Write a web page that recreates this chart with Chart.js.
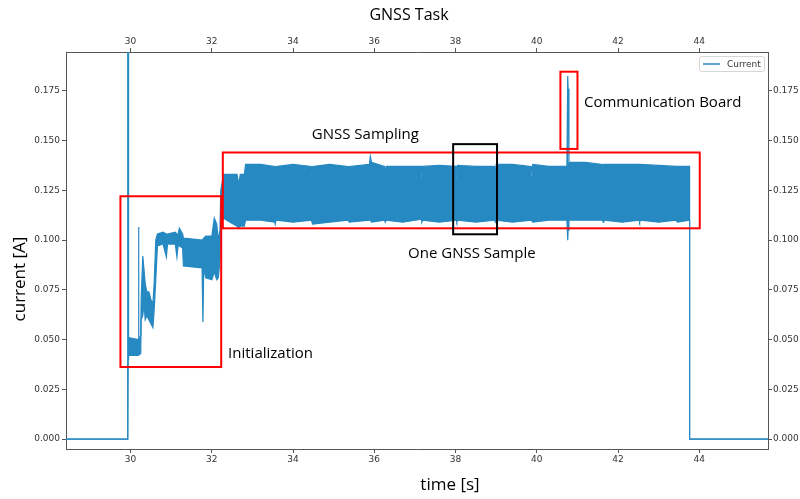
<!DOCTYPE html>
<html>
<head>
<meta charset="utf-8">
<script src="https://cdn.jsdelivr.net/npm/chart.js@4.4.0/dist/chart.umd.min.js"></script>
<style>
  html, body { margin: 0; padding: 0; background: #fff; }
  #wrap { width: 800px; height: 499px; }
</style>
</head>
<body>
<div id="wrap"><canvas id="chart"></canvas></div>
<script>
// time axis of the trace [s]
const timeS = [
  28.41, 29.93, 29.93, 29.94, 29.95, 30.19, 30.195, 30.205, 30.25, 30.26,
  30.30, 30.33, 30.36, 30.40, 30.45, 30.50, 30.55, 30.58, 30.62, 30.66,
  30.80, 30.88, 30.91, 31.10, 31.14, 31.17, 31.20, 31.28, 31.30, 31.76,
  31.78, 31.80, 31.85, 32.00, 32.06, 32.12, 32.16, 32.20, 32.22, 32.29,
  32.45, 32.62, 32.66, 32.70, 32.80, 32.83, 33.20, 33.55, 33.56, 33.58,
  34.00, 34.45, 34.46, 34.48, 34.90, 35.35, 35.36, 35.38, 35.88, 35.90,
  35.93, 36.25, 36.27, 36.29, 36.70, 37.16, 37.17, 37.19, 37.60, 38.02,
  38.03, 38.05, 38.50, 38.96, 38.98, 39.00, 39.40, 39.86, 39.88, 39.90,
  40.30, 40.74, 40.76, 40.77, 40.79, 41.20, 41.62, 41.63, 41.65, 42.10,
  42.52, 42.53, 42.55, 43.00, 43.43, 43.44, 43.46, 43.76, 43.76, 45.69
];
// upper edge of the current trace [A]
const currentHigh = [
  0, 0, 0.200, 0.200, 0.051, 0.050, 0.1066, 0.050, 0.052, 0.070,
  0.092, 0.085, 0.078, 0.074, 0.074, 0.070, 0.068, 0.078, 0.100, 0.103,
  0.104, 0.103, 0.103, 0.104, 0.103, 0.103, 0.106, 0.103, 0.101, 0.100,
  0.100, 0.101, 0.102, 0.102, 0.111, 0.108, 0.100, 0.105, 0.125, 0.133,
  0.133, 0.133, 0.128, 0.133, 0.133, 0.138, 0.138, 0.137, 0.132, 0.137,
  0.138, 0.137, 0.132, 0.137, 0.138, 0.137, 0.132, 0.137, 0.138, 0.142,
  0.139, 0.137, 0.1326, 0.137, 0.137, 0.137, 0.131, 0.137, 0.1375, 0.137,
  0.131, 0.1375, 0.137, 0.137, 0.1326, 0.138, 0.138, 0.137, 0.1326, 0.138,
  0.137, 0.137, 0.1824, 0.176, 0.139, 0.139, 0.138, 0.133, 0.138, 0.138,
  0.138, 0.132, 0.138, 0.1375, 0.137, 0.132, 0.137, 0.137, 0, 0
];
// lower edge of the current trace [A]
const currentLow = [
  0, 0, 0, 0.040, 0.042, 0.042, 0.042, 0.042, 0.043, 0.060,
  0.062, 0.068, 0.060, 0.062, 0.060, 0.058, 0.056, 0.065, 0.080, 0.097,
  0.098, 0.0915, 0.098, 0.098, 0.0915, 0.097, 0.097, 0.096, 0.087, 0.086,
  0.0588, 0.086, 0.081, 0.080, 0.084, 0.080, 0.081, 0.090, 0.108, 0.111,
  0.109, 0.107, 0.106, 0.107, 0.107, 0.110, 0.110, 0.109, 0.108, 0.110,
  0.109, 0.110, 0.110, 0.108, 0.109, 0.110, 0.110, 0.109, 0.110, 0.110,
  0.109, 0.110, 0.109, 0.110, 0.109, 0.1105, 0.109, 0.110, 0.109, 0.110,
  0.109, 0.110, 0.109, 0.110, 0.109, 0.110, 0.109, 0.110, 0.110, 0.109,
  0.110, 0.110, 0.0999, 0.105, 0.110, 0.110, 0.110, 0.109, 0.110, 0.109,
  0.110, 0.109, 0.110, 0.109, 0.110, 0.110, 0.109, 0.110, 0, 0
];
const xTicks = [30, 32, 34, 36, 38, 40, 42, 44];
const yTicks = [0, 0.025, 0.05, 0.075, 0.1, 0.125, 0.15, 0.175];

const LINE = '#2789c2';
const tickFont = { family: 'DejaVu Sans', size: 9 };
const noteFont = '15px "Open Sans"';

// annotation boxes in data units
const notes = [
  { x0: 29.75, x1: 32.23, y0: 0.0362, y1: 0.122, color: '#f00', text: 'Initialization', tx: 32.40, ty: 0.0431 },
  { x0: 32.27, x1: 44.01, y0: 0.1059, y1: 0.1440, color: '#f00', text: 'GNSS Sampling', tx: 34.46, ty: 0.1527 },
  { x0: 40.58, x1: 41.00, y0: 0.1458, y1: 0.1846, color: '#f00', text: 'Communication Board', tx: 41.16, ty: 0.1688 },
  { x0: 37.94, x1: 39.02, y0: 0.1029, y1: 0.1482, color: '#000', text: 'One GNSS Sample', tx: 36.83, ty: 0.0929 }
];

const toPoints = ys => timeS.map((t, i) => ({ x: t, y: ys[i] }));

function axisX(pos, h) {
  return {
    type: 'linear', position: pos, min: 28.41, max: 45.69,
    afterBuildTicks: s => { s.ticks = xTicks.map(v => ({ value: v })); },
    afterFit: s => { s.height = h; },
    ticks: { font: tickFont, color: '#333', maxRotation: 0, padding: 1, callback: v => String(v) },
    grid: { drawOnChartArea: false, tickLength: 4, color: '#555' },
    border: { color: '#555' }
  };
}
function axisY(pos, w, pad) {
  return {
    type: 'linear', position: pos, min: -0.005, max: 0.1945,
    afterBuildTicks: s => { s.ticks = yTicks.map(v => ({ value: v })); },
    afterFit: s => { s.width = w; },
    ticks: { font: tickFont, color: '#333', padding: pad, callback: v => v.toFixed(3) },
    grid: { drawOnChartArea: false, tickLength: 4, color: '#555' },
    border: { color: '#555' }
  };
}

const overlay = {
  id: 'overlay',
  afterDatasetsDraw(chart) {
    const { ctx, scales: { x, y } } = chart;
    ctx.save();
    ctx.lineWidth = 2;
    notes.forEach(n => {
      ctx.strokeStyle = n.color;
      const l = x.getPixelForValue(n.x0), r = x.getPixelForValue(n.x1);
      const t = y.getPixelForValue(n.y1), b = y.getPixelForValue(n.y0);
      ctx.strokeRect(l, t, r - l, b - t);
    });
    ctx.fillStyle = '#000';
    ctx.font = noteFont;
    ctx.textBaseline = 'middle';
    ctx.textAlign = 'left';
    notes.forEach(n => {
      ctx.fillText(n.text, x.getPixelForValue(n.tx), y.getPixelForValue(n.ty));
    });
    ctx.restore();
  },
  afterDraw(chart) {
    const { ctx } = chart;
    ctx.save();
    // titles
    ctx.fillStyle = '#000';
    ctx.textAlign = 'center';
    ctx.textBaseline = 'middle';
    ctx.font = '16px "Open Sans"';
    ctx.fillText('GNSS Task', 409, 15);
    ctx.font = '17px "Open Sans"';
    ctx.fillText('time [s]', 450, 485);
    ctx.translate(20, 279);
    ctx.rotate(-Math.PI / 2);
    ctx.fillText('current [A]', 0, 0);
    ctx.restore();

    // legend box
    ctx.save();
    ctx.fillStyle = 'rgba(255,255,255,0.9)';
    ctx.strokeStyle = '#d6d6d6';
    ctx.lineWidth = 1;
    ctx.beginPath();
    ctx.roundRect(699.5, 56.5, 65, 15, 2);
    ctx.fill();
    ctx.stroke();
    ctx.strokeStyle = LINE;
    ctx.lineWidth = 1.5;
    ctx.beginPath();
    ctx.moveTo(703, 64);
    ctx.lineTo(720, 64);
    ctx.stroke();
    ctx.fillStyle = '#333';
    ctx.font = '9px "DejaVu Sans"';
    ctx.textBaseline = 'middle';
    ctx.fillText(chart.data.datasets[0].label, 727, 64.5);
    ctx.restore();
  }
};

new Chart(document.getElementById('chart'), {
  type: 'line',
  data: {
    datasets: [
      {
        label: 'Current',
        data: toPoints(currentHigh),
        borderColor: LINE, borderWidth: 1.2,
        pointRadius: 0, tension: 0, fill: false
      },
      {
        label: 'Current (low)',
        data: toPoints(currentLow),
        borderColor: LINE, borderWidth: 1.2, backgroundColor: LINE,
        pointRadius: 0, tension: 0, fill: '-1'
      }
    ]
  },
  options: {
    responsive: true,
    maintainAspectRatio: false,
    animation: false,
    events: [],
    layout: { padding: 0 },
    plugins: { legend: { display: false }, tooltip: { enabled: false }, title: { display: false } },
    scales: {
      x: axisX('bottom', 50),
      x2: axisX('top', 52),
      y: axisY('left', 66, 2),
      y2: axisY('right', 32, 1)
    }
  },
  plugins: [overlay]
});
</script>
</body>
</html>
